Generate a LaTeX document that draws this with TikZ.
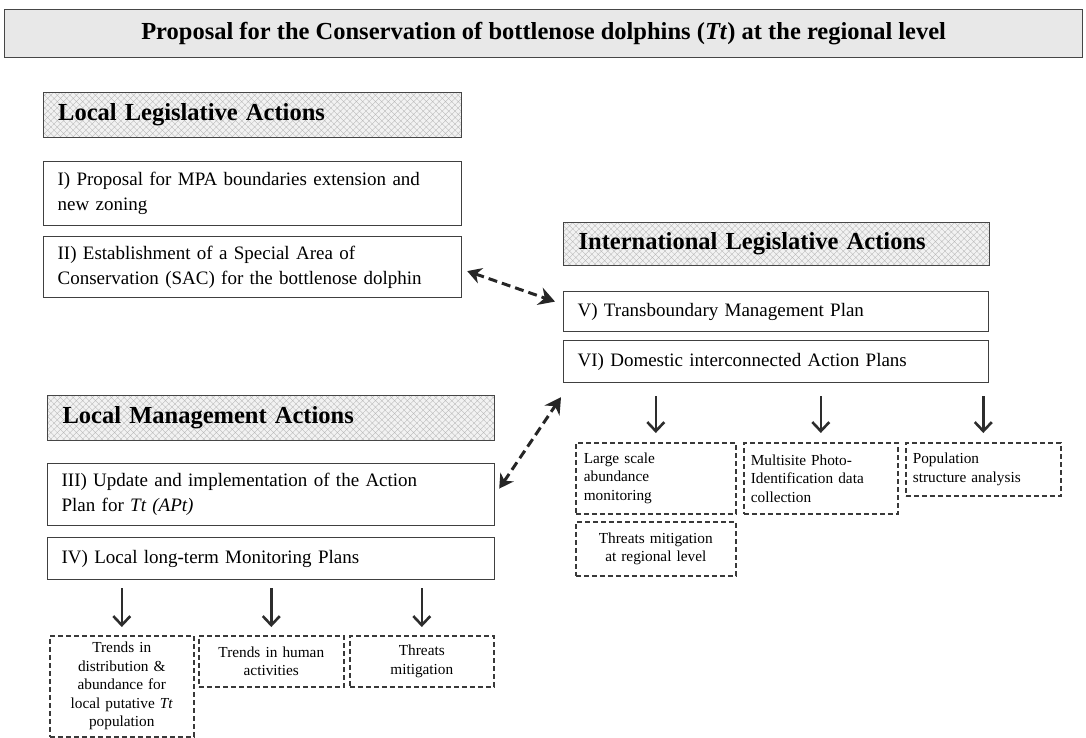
\documentclass[tikz,border=0pt]{standalone}
\usepackage{fontspec}
\setmainfont{Liberation Serif}
\usetikzlibrary{arrows.meta,calc,patterns.meta}
\begin{document}
\begin{tikzpicture}[x=1pt,y=-1pt,
  titlebox/.style={draw=gray!55!black,line width=1.3pt,fill=gray!18,anchor=north west,inner sep=0pt},
  header/.style={draw=gray!55!black,line width=1.2pt,preaction={fill=gray!10},
    pattern={Hatch[distance=4.5pt,angle=45,line width=0.35pt]},pattern color=gray!55,
    anchor=north west,inner xsep=15pt,inner ysep=0pt,align=left,
    font=\fontsize{24.5}{28}\selectfont\bfseries},
  abox/.style={draw=gray!50!black,line width=1.2pt,fill=white,anchor=north west,
    inner xsep=14pt,inner ysep=0pt,align=left,font=\fontsize{19}{25}\selectfont},
  dbox/.style={draw=gray!45!black,line width=1.6pt,dash pattern=on 5pt off 3pt,
    anchor=north west,inner xsep=7pt,inner ysep=0pt,font=\fontsize{15.3}{18.5}\selectfont},
  downarr/.style={draw=gray!35!black,line width=2.6pt,-{Straight Barb[length=9pt,width=17pt,line width=2.6pt]}},
  dasharr/.style={draw=black!85,line width=3pt,dash pattern=on 9pt off 5pt,
    {Stealth[length=14pt,width=16pt]}-{Stealth[length=16pt,width=18pt]}}
]
\useasboundingbox (0,0) rectangle (1086,738);

% title
\node[titlebox,minimum width=1078pt,minimum height=48pt] (title) at (4,9) {};
\node[font=\fontsize{24.5}{28}\selectfont\bfseries] (ttext) at (title.center) {Proposal for the Conservation of bottlenose dolphins (\textit{Tt}) at the regional level};

% local legislative
\node[header,minimum width=418pt,minimum height=45pt,text width=388pt] (h1) at (43,92) {Local Legislative Actions};
\node[abox,minimum width=418pt,minimum height=64pt,text width=390pt] (b1) at (43,161) {I) Proposal for MPA boundaries extension and\\ new zoning};
\node[abox,minimum width=418pt,minimum height=61pt,text width=390pt] (b2) at (43,236) {II) Establishment of a Special Area of\\ Conservation (SAC) for the bottlenose dolphin};

% international
\node[header,minimum width=426pt,minimum height=43pt,text width=396pt] (h2) at (563,222) {International Legislative Actions};
\node[abox,minimum width=425pt,minimum height=40pt,text width=397pt] (b5) at (563,291) {V) Transboundary Management Plan};
\node[abox,minimum width=425pt,minimum height=42pt,text width=397pt] (b6) at (563,340) {VI) Domestic interconnected Action Plans};

% local management
\node[header,minimum width=447pt,minimum height=45pt,text width=417pt] (h3) at (47,395) {Local Management Actions};
\node[abox,minimum width=447pt,minimum height=62pt,text width=419pt] (b3) at (47,463) {III) Update and implementation of the Action\\ Plan for \textit{Tt (APt)}};
\node[abox,minimum width=447pt,minimum height=42pt,text width=419pt] (b4) at (47,537) {IV) Local long-term Monitoring Plans};

% bottom-left dashed boxes
\node[dbox,minimum width=144pt,minimum height=101pt,text width=130pt,align=center] (d1) at (49,635) {Trends in\\ distribution \&\\ abundance for\\ local putative \textit{Tt}\\ population};
\node[dbox,minimum width=145pt,minimum height=51pt,text width=131pt,align=center] (d2) at (198,635) {Trends in human\\ activities};
\node[dbox,minimum width=144pt,minimum height=51pt,text width=130pt,align=center] (d3) at (349,635) {Threats\\ mitigation};

% right dashed boxes
\node[dbox,minimum width=160pt,minimum height=71pt,text width=144pt,align=left,inner xsep=8pt] (r1) at (575,442) {Large scale\\ abundance\\ monitoring};
\node[dbox,minimum width=154pt,minimum height=71pt,text width=140pt,align=left] (r2) at (743,442) {Multisite Photo-\\ Identification data\\ collection};
\node[dbox,minimum width=155pt,minimum height=53pt,text width=141pt,align=left] (r3) at (905,442) {Population\\ structure analysis};
\node[dbox,minimum width=160pt,minimum height=54pt,text width=146pt,align=center] (r4) at (575,521) {Threats mitigation\\ at regional level};

% down arrows
\draw[downarr,shorten <=8pt,shorten >=8pt] (b4.south -| d1.north) -- (d1.north);
\draw[downarr,shorten <=8pt,shorten >=8pt] (b4.south -| d2.north) -- (d2.north);
\draw[downarr,shorten <=8pt,shorten >=8pt] (b4.south -| d3.north) -- (d3.north);
\draw[downarr,shorten <=13pt,shorten >=9pt] (b6.south -| r1.north) -- (r1.north);
\draw[downarr,shorten <=13pt,shorten >=9pt] (b6.south -| r2.north) -- (r2.north);
\draw[downarr,shorten <=13pt,shorten >=9pt] (b6.south -| r3.north) -- (r3.north);

% dashed double arrows
\coordinate (a1s) at ($(b2.east)+(5,4)$);
\coordinate (a1e) at ($(b5.west)+(-8,-10)$);
\draw[dasharr] (a1s) -- (a1e);
\coordinate (a2s) at ($(b3.east)+(4,-6)$);
\coordinate (a2e) at ($(b6.south west)+(-2,14)$);
\draw[dasharr] (a2s) -- (a2e);
\end{tikzpicture}
\end{document}
